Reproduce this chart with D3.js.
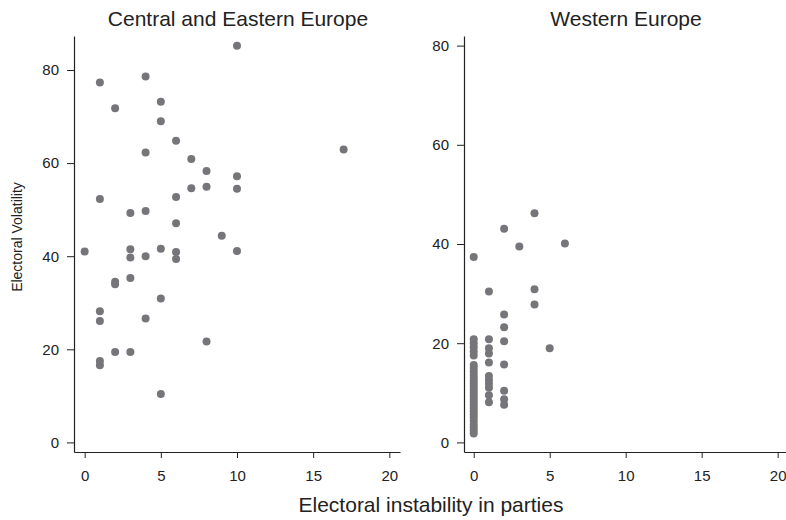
<!DOCTYPE html>
<html>
<head>
<meta charset="utf-8">
<script src="https://cdn.jsdelivr.net/npm/d3@7"></script>
<style>
  body { margin: 0; background: #fff; }
  svg { display: block; }
  text { font-family: "Liberation Sans", Arial, Helvetica, sans-serif; fill: #222; }
</style>
</head>
<body>
<svg id="chart" width="786" height="520"></svg>
<script>
// ---- Data ----
const panelTitles = ["Central and Eastern Europe", "Western Europe"];
const xTicks = [0, 5, 10, 15, 20];
const yTicks = [0, 20, 40, 60, 80];

// Central and Eastern Europe
const ceeX = [10, 1, 4, 2, 5, 5, 6, 4, 17, 7, 8, 10, 7, 8, 10, 1, 6, 3, 4, 6, 9,
              0, 3, 3, 4, 5, 6, 6, 10, 2, 2, 3, 5, 1, 1, 4, 8, 2, 3, 1, 1, 5];
const ceeY = [85.2, 77.3, 78.6, 71.8, 73.2, 69.0, 64.8, 62.3, 62.9, 60.9, 58.3, 57.2, 54.6, 54.9, 54.5, 52.3, 52.7, 49.3, 49.7, 47.1, 44.4,
              41.0, 41.5, 39.7, 40.0, 41.6, 40.9, 39.4, 41.1, 34.5, 34.0, 35.3, 30.9, 28.2, 26.1, 26.6, 21.7, 19.4, 19.4, 17.5, 16.6, 10.4];

// Western Europe
const weX = [4, 2, 3, 6, 0, 1, 4, 4, 2, 2, 2, 5, 2, 2, 2, 2,
             1, 1, 1, 1, 1, 1, 1, 1, 1, 1,
             0, 0, 0, 0, 0, 0, 0, 0, 0, 0, 0, 0, 0, 0, 0, 0, 0, 0, 0, 0, 0, 0, 0, 0, 0, 0, 0, 0];
const weY = [46.2, 43.1, 39.5, 40.1, 37.4, 30.4, 30.9, 27.8, 25.8, 23.2, 20.4, 19.0, 15.7, 10.4, 8.7, 7.6,
             20.8, 19.0, 17.9, 16.1, 13.4, 12.6, 11.8, 11.0, 9.5, 8.1,
             20.8, 20.0, 19.2, 18.3, 17.5, 15.6, 15.0, 14.3, 13.6, 13.0, 12.4, 11.8, 11.2, 10.6, 10.0, 9.4, 8.8, 8.2, 7.6, 7.0, 6.3, 5.6, 5.0, 4.3, 3.6, 3.0, 2.4, 1.8];

const panels = [
  { title: panelTitles[0], xs: ceeX, ys: ceeY,
    xDom: [-0.7, 20.7], xRange: [74, 400], yDom: [-2.06, 87.3], yRange: [452, 36] },
  { title: panelTitles[1], xs: weX, ys: weY,
    xDom: [-0.64, 20.55], xRange: [464, 786], yDom: [-1.94, 81.94], yRange: [452, 36] }
];

const svg = d3.select("#chart");
const dotColor = "#76767a";

panels.forEach(p => {
  const x = d3.scaleLinear().domain(p.xDom).range(p.xRange);
  const y = d3.scaleLinear().domain(p.yDom).range(p.yRange);

  const xAxis = svg.append("g")
    .attr("transform", `translate(0,${p.yRange[0]})`)
    .call(d3.axisBottom(x).tickValues(xTicks).tickSize(6).tickSizeOuter(0).tickPadding(12));
  const yAxis = svg.append("g")
    .attr("transform", `translate(${p.xRange[0]},0)`)
    .call(d3.axisLeft(y).tickValues(yTicks).tickSize(7).tickSizeOuter(0).tickPadding(8));

  [xAxis, yAxis].forEach(a => {
    a.selectAll("path.domain").attr("stroke", "#222").attr("stroke-width", 1.2);
    a.selectAll(".tick line").attr("stroke", "#222").attr("stroke-width", 1);
    a.selectAll(".tick text").attr("font-size", 15)
      .style("font-family", '"Liberation Sans", Arial, sans-serif').attr("fill", "#222");
  });

  svg.append("text")
    .attr("x", (p.xRange[0] + p.xRange[1]) / 2 + 1)
    .attr("y", 25.5)
    .attr("text-anchor", "middle")
    .attr("font-size", 21)
    .text(p.title);

  const pts = p.xs.map((v, i) => ({ x: v, y: p.ys[i] }));
  svg.append("g").selectAll("circle").data(pts).join("circle")
    .attr("cx", d => x(d.x))
    .attr("cy", d => y(d.y))
    .attr("r", 4)
    .attr("fill", dotColor);
});

svg.append("text")
  .attr("transform", "translate(22,237) rotate(-90)")
  .attr("text-anchor", "middle")
  .attr("font-size", 14)
  .text("Electoral Volatility");

svg.append("text")
  .attr("x", 431)
  .attr("y", 512)
  .attr("text-anchor", "middle")
  .attr("font-size", 21)
  .text("Electoral instability in parties");
</script>
</body>
</html>
